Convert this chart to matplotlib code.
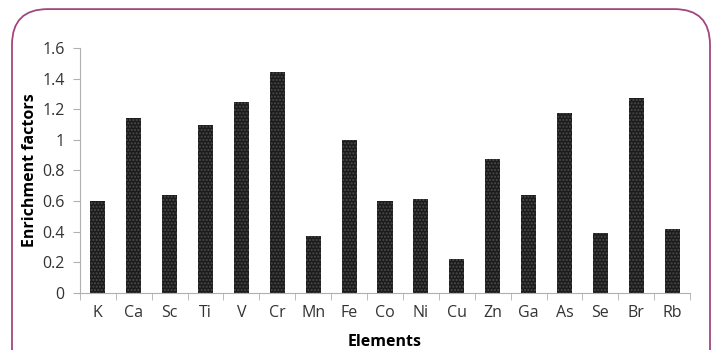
import matplotlib.pyplot as plt
from matplotlib.patches import FancyBboxPatch

# element names and enrichment factors
elements = ["K", "Ca", "Sc", "Ti", "V", "Cr", "Mn", "Fe", "Co",
            "Ni", "Cu", "Zn", "Ga", "As", "Se", "Br", "Rb"]
factors = [0.60, 1.14, 0.64, 1.10, 1.245, 1.44, 0.37, 1.0, 0.60,
           0.615, 0.22, 0.875, 0.64, 1.175, 0.39, 1.27, 0.415]
y_ticks = [0, 0.2, 0.4, 0.6, 0.8, 1, 1.2, 1.4, 1.6]
y_tick_labels = ["0", "0.2", "0.4", "0.6", "0.8", "1", "1.2", "1.4", "1.6"]

plt.rcParams['font.family'] = ['Open Sans', 'DejaVu Sans']

fig = plt.figure(figsize=(7.13, 3.5), dpi=100)

# rounded frame around the figure
frame = FancyBboxPatch((12 / 713, -0.2), 698 / 713, 1.174,
                       boxstyle="round,pad=0,rounding_size=0.05",
                       transform=fig.transFigure, facecolor='none',
                       edgecolor='#a3467f', linewidth=1.3,
                       mutation_aspect=713 / 350)
fig.patches.append(frame)

ax = fig.add_axes([0.112, 0.163, 0.856, 0.7])
x = list(range(len(elements)))
ax.bar(x, factors, width=0.42, color='#1c1c1c', edgecolor='#4a4a4a',
       hatch='.....', linewidth=0)

ax.set_xlim(-0.5, len(elements) - 0.5)
ax.set_ylim(0, 1.6)
ax.set_yticks(y_ticks)
ax.set_yticklabels(y_tick_labels)
ax.set_xticks(x)
ax.set_xticklabels(elements)
ax.set_xticks([i - 0.5 for i in range(len(elements) + 1)], minor=True)
ax.tick_params(axis='x', which='major', length=0, pad=9, labelsize=11.5,
               colors='#333333')
ax.tick_params(axis='x', which='minor', length=5, color='#b0b0b0')
ax.tick_params(axis='y', length=5, color='#b0b0b0', labelsize=11.5,
               labelcolor='#333333', pad=6)

for side in ['top', 'right']:
    ax.spines[side].set_visible(False)
for side in ['left', 'bottom']:
    ax.spines[side].set_color('#b0b0b0')

ax.set_ylabel("Enrichment factors", fontsize=11.5, fontweight='bold',
              labelpad=3)
ax.set_xlabel("Elements", fontsize=11.5, fontweight='bold', labelpad=9)

fig.savefig("out.png", dpi=100)
